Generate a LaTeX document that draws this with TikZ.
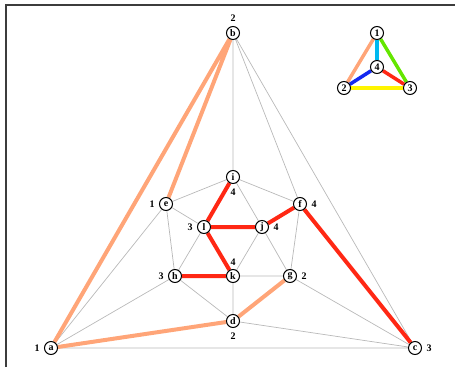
\documentclass[tikz,border=0pt]{standalone}
\usepackage{fontspec}
\setmainfont{Liberation Serif}
\pgfdeclarelayer{bg}
\pgfsetlayers{bg,main}
\definecolor{salmon}{RGB}{255,165,120}
\definecolor{redline}{RGB}{255,40,20}
\definecolor{thingray}{RGB}{185,185,185}
\definecolor{frame}{RGB}{60,60,60}
\definecolor{skyb}{RGB}{0,185,240}
\definecolor{lawn}{RGB}{100,230,0}
\definecolor{blueline}{RGB}{20,40,240}
\definecolor{yell}{RGB}{255,245,0}
\begin{document}
\begin{tikzpicture}[x=1pt,y=-1pt,
  vtx/.style={circle,draw=black,line width=1pt,fill=white,minimum size=13pt,inner sep=0pt,font=\fontsize{10}{10}\selectfont\bfseries},
  lbl/.style={font=\fontsize{10}{10}\selectfont\bfseries,inner sep=0pt},
  thin/.style={draw=thingray,line width=0.7pt},
  org/.style={draw=salmon,line width=4pt},
  rd/.style={draw=redline,line width=4pt},
  sm/.style={line width=3.5pt}]
\useasboundingbox (0,0) rectangle (455,367);
\draw[draw=frame,line width=1.2pt] (6,367) -- (6,5) -- (455,5);
% vertices
\node[vtx] (b) at (233,33) {b};
\node[vtx] (a) at (51,348) {a};
\node[vtx] (c) at (415,348) {c};
\node[vtx] (d) at (233,321) {d};
\node[vtx] (i) at (233,177) {i};
\node[vtx] (e) at (166,204) {e};
\node[vtx] (f) at (300,204) {f};
\node[vtx] (l) at (204,227) {l};
\node[vtx] (j) at (262,227) {j};
\node[vtx] (h) at (175,276) {h};
\node[vtx] (k) at (233,276) {k};
\node[vtx] (g) at (290,276) {g};
% labels
\node[lbl] (lb) at (233,18) {2};
\node[lbl] (la) at (37,348) {1};
\node[lbl] (lc) at (429,348) {3};
\node[lbl] (ld) at (233,336) {2};
\node[lbl] (li) at (233,192) {4};
\node[lbl] (le) at (152,204) {1};
\node[lbl] (lf) at (314,204) {4};
\node[lbl] (ll) at (190,227) {3};
\node[lbl] (lj) at (276,227) {4};
\node[lbl] (lh) at (161,276) {3};
\node[lbl] (lk) at (233,262) {4};
\node[lbl] (lg) at (304,276) {2};
% small triangle
\node[vtx] (s1) at (377,33) {1};
\node[vtx] (s4) at (377,67) {4};
\node[vtx] (s2) at (344,88) {2};
\node[vtx] (s3) at (410,88) {3};
\begin{pgfonlayer}{bg}
\draw[thin] (b)--(i) (b)--(f) (b)--(c) (a)--(e) (a)--(h) (a)--(c)
  (c)--(g) (c)--(d) (d)--(h) (d)--(k) (i)--(e) (i)--(f) (i)--(j)
  (e)--(l) (e)--(h) (f)--(g) (j)--(k) (j)--(g) (l)--(h) (k)--(g);
\draw[org] (b)--(a) (b)--(e) (a)--(d) (d)--(g);
\draw[rd] (i)--(l) (l)--(j) (j)--(f) (f)--(c) (l)--(k) (h)--(k);
\draw[sm,salmon] (s1)--(s2);
\draw[sm,skyb] (s1)--(s4);
\draw[sm,lawn] (s1)--(s3);
\draw[sm,blueline] (s4)--(s2);
\draw[sm,redline] (s4)--(s3);
\draw[sm,yell] (s2)--(s3);
\end{pgfonlayer}
\end{tikzpicture}
\end{document}
